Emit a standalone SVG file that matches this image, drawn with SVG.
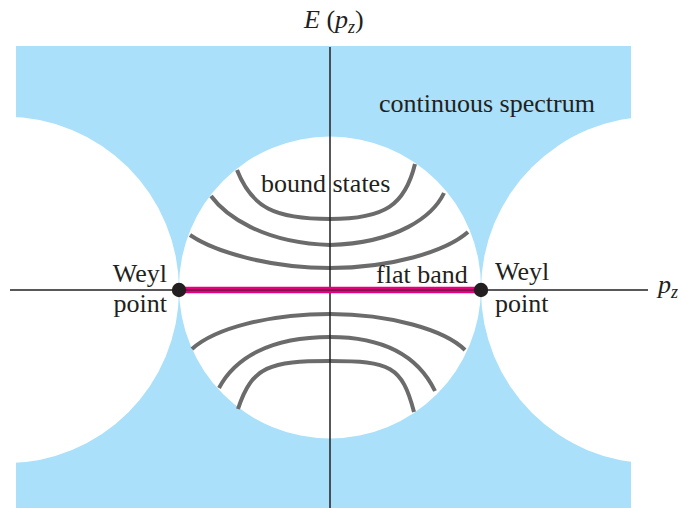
<svg xmlns="http://www.w3.org/2000/svg" width="681" height="508" viewBox="0 0 681 508">
<style>
text{font-family:"Liberation Serif","Times New Roman",serif;font-size:26px;fill:#231f20}
.it{font-style:italic}
.state{fill:none;stroke:#6b6b6b;stroke-width:4;stroke-linecap:butt}
.axis{stroke:#231f20;stroke-width:1.5;fill:none}
.gap{fill:#ffffff}
.dot{fill:#231f20}
</style>
<rect width="681" height="508" fill="#ffffff"/>
<g id="continuum">
<rect x="16" y="46" width="615" height="462" fill="#aae0f9"/>
<circle class="gap" cx="5.7" cy="290" r="173.3"/>
<circle class="gap" cx="654.6" cy="290" r="173.6"/>
<circle class="gap" cx="330" cy="287.5" r="151"/>
</g>
<g id="bound-states">
<path class="state" d="M237,170 C252,208 275,219 330,219 C385,219 405,205 415,164"/>
<path class="state" d="M211,196 C225,215 262,243 330,245 C398,243 433,216 444,193"/>
<path class="state" d="M190,235 C215,252 270,268 330,268 C390,268 445,252 468,232"/>
<path class="state" d="M192,349 C215,328 270,314 330,314 C390,314 445,330 465,350"/>
<path class="state" d="M219,388 C235,358 270,337 330,337 C390,337 420,360 435,391"/>
<path class="state" d="M238,409 C252,366 270,361 330,361 C390,361 402,366 414,412"/>
</g>
<g id="connectors">
<line class="axis" x1="330" y1="47" x2="330" y2="508"/>
<line class="axis" x1="10" y1="290" x2="648" y2="290"/>
<line x1="179" y1="290" x2="481" y2="290" stroke="#e6007e" stroke-width="6.5"/>
<line x1="179" y1="290" x2="481" y2="290" stroke="#231f20" stroke-width="1.2"/>
</g>
<g id="weyl-left">
<circle class="dot" cx="179" cy="290" r="7.2"/>
<text x="167" y="282" text-anchor="end">Weyl</text>
<text x="167" y="312" text-anchor="end">point</text>
</g>
<g id="weyl-right">
<circle class="dot" cx="481" cy="290" r="7.2"/>
<text x="495" y="280">Weyl</text>
<text x="495" y="312">point</text>
</g>
<g id="labels">
<text x="304" y="28"><tspan class="it">E</tspan> (<tspan class="it">p</tspan><tspan class="it" font-size="18" dy="5">z</tspan><tspan dy="-5">)</tspan></text>
<text x="658" y="293"><tspan class="it">p</tspan><tspan class="it" font-size="18" dy="5">z</tspan></text>
<text x="379" y="112" font-size="27">continuous spectrum</text>
<text x="261" y="192">bound states</text>
<text x="376" y="283">flat band</text>
</g>
</svg>
